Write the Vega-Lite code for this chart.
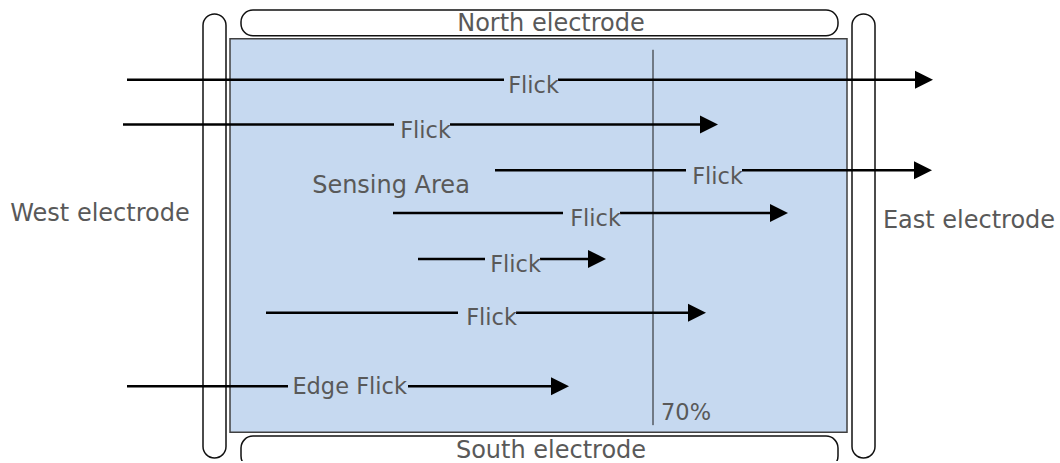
{
  "$schema": "https://vega.github.io/schema/vega-lite/v6.json",
  "width": 1060,
  "height": 463,
  "padding": 0,
  "autosize": {"type": "fit", "contains": "padding"},
  "config": {"view": {"stroke": null}},
  "datasets": {
    "electrodes": [
      {"name": "North", "x": 241, "x2": 838, "y": 10, "y2": 36},
      {"name": "South", "x": 241, "x2": 838, "y": 438, "y2": 470},
      {"name": "West", "x": 203, "x2": 226, "y": 14, "y2": 460},
      {"name": "East", "x": 852, "x2": 875, "y": 14, "y2": 460}
    ],
    "area": [{"x": 230, "x2": 847, "y": 39, "y2": 434}],
    "threshold": [{"x": 653, "y": 50, "y2": 427}],
    "segments": [
      {"arrow": 1, "x": 127, "x2": 504, "y": 80},
      {"arrow": 1, "x": 558, "x2": 916, "y": 80},
      {"arrow": 2, "x": 123, "x2": 394, "y": 125},
      {"arrow": 2, "x": 450, "x2": 701, "y": 125},
      {"arrow": 3, "x": 495, "x2": 686, "y": 171},
      {"arrow": 3, "x": 742, "x2": 915, "y": 171},
      {"arrow": 4, "x": 393, "x2": 563, "y": 214},
      {"arrow": 4, "x": 620, "x2": 771, "y": 214},
      {"arrow": 5, "x": 418, "x2": 485, "y": 260},
      {"arrow": 5, "x": 540, "x2": 589, "y": 260},
      {"arrow": 6, "x": 266, "x2": 458, "y": 314},
      {"arrow": 6, "x": 516, "x2": 689, "y": 314},
      {"arrow": 7, "x": 127, "x2": 288, "y": 388},
      {"arrow": 7, "x": 408, "x2": 552, "y": 388}
    ],
    "heads": [
      {"arrow": 1, "x": 924, "y": 80},
      {"arrow": 2, "x": 709, "y": 125},
      {"arrow": 3, "x": 923, "y": 171},
      {"arrow": 4, "x": 779, "y": 214},
      {"arrow": 5, "x": 597, "y": 260},
      {"arrow": 6, "x": 697, "y": 314},
      {"arrow": 7, "x": 560, "y": 388}
    ],
    "gestureLabels": [
      {"label": "Flick", "x": 559, "y": 93},
      {"label": "Flick", "x": 451, "y": 139},
      {"label": "Flick", "x": 743, "y": 185},
      {"label": "Flick", "x": 621, "y": 227},
      {"label": "Flick", "x": 541, "y": 273},
      {"label": "Flick", "x": 517, "y": 326},
      {"label": "Edge Flick", "x": 407, "y": 396}
    ],
    "centerLabels": [
      {"label": "North electrode", "x": 551, "y": 31},
      {"label": "South electrode", "x": 551, "y": 460},
      {"label": "West electrode", "x": 100, "y": 222},
      {"label": "East electrode", "x": 969, "y": 229},
      {"label": "Sensing Area", "x": 391, "y": 194}
    ],
    "leftLabels": [
      {"label": "70%", "x": 661, "y": 422}
    ]
  },
  "layer": [
    {
      "data": {"name": "electrodes"},
      "mark": {"type": "rect", "fill": "white", "stroke": "#111111", "strokeWidth": 1.5, "cornerRadius": 12, "clip": true},
      "encoding": {
        "x": {"field": "x", "type": "quantitative", "scale": {"domain": [0, 1060], "nice": false, "zero": false}, "axis": null},
        "x2": {"field": "x2"},
        "y": {"field": "y", "type": "quantitative", "scale": {"domain": [0, 463], "nice": false, "zero": false, "reverse": true}, "axis": null},
        "y2": {"field": "y2"}
      }
    },
    {
      "data": {"name": "area"},
      "mark": {"type": "rect", "fill": "#c6d9f0", "stroke": "#404040", "strokeWidth": 1.5},
      "encoding": {
        "x": {"field": "x", "type": "quantitative"},
        "x2": {"field": "x2"},
        "y": {"field": "y", "type": "quantitative"},
        "y2": {"field": "y2"}
      }
    },
    {
      "data": {"name": "threshold"},
      "mark": {"type": "rule", "stroke": "#1a1a1a", "strokeWidth": 1},
      "encoding": {
        "x": {"field": "x", "type": "quantitative"},
        "y": {"field": "y", "type": "quantitative"},
        "y2": {"field": "y2"}
      }
    },
    {
      "data": {"name": "segments"},
      "mark": {"type": "rule", "stroke": "black", "strokeWidth": 2.5},
      "encoding": {
        "x": {"field": "x", "type": "quantitative"},
        "x2": {"field": "x2"},
        "y": {"field": "y", "type": "quantitative"}
      }
    },
    {
      "data": {"name": "heads"},
      "mark": {"type": "point", "shape": "M-1,-1L1,0L-1,1Z", "filled": true, "fill": "black", "opacity": 1, "size": 324, "strokeWidth": 0},
      "encoding": {
        "x": {"field": "x", "type": "quantitative"},
        "y": {"field": "y", "type": "quantitative"}
      }
    },
    {
      "data": {"name": "gestureLabels"},
      "mark": {"type": "text", "align": "right", "baseline": "alphabetic", "font": "DejaVu Sans", "fontSize": 22.5, "fill": "#595959"},
      "encoding": {
        "x": {"field": "x", "type": "quantitative"},
        "y": {"field": "y", "type": "quantitative"},
        "text": {"field": "label"}
      }
    },
    {
      "data": {"name": "centerLabels"},
      "mark": {"type": "text", "align": "center", "baseline": "alphabetic", "font": "DejaVu Sans", "fontSize": 24, "fill": "#595959"},
      "encoding": {
        "x": {"field": "x", "type": "quantitative"},
        "y": {"field": "y", "type": "quantitative"},
        "text": {"field": "label"}
      }
    },
    {
      "data": {"name": "leftLabels"},
      "mark": {"type": "text", "align": "left", "baseline": "alphabetic", "font": "DejaVu Sans", "fontSize": 22.5, "fill": "#595959"},
      "encoding": {
        "x": {"field": "x", "type": "quantitative"},
        "y": {"field": "y", "type": "quantitative"},
        "text": {"field": "label"}
      }
    }
  ]
}
